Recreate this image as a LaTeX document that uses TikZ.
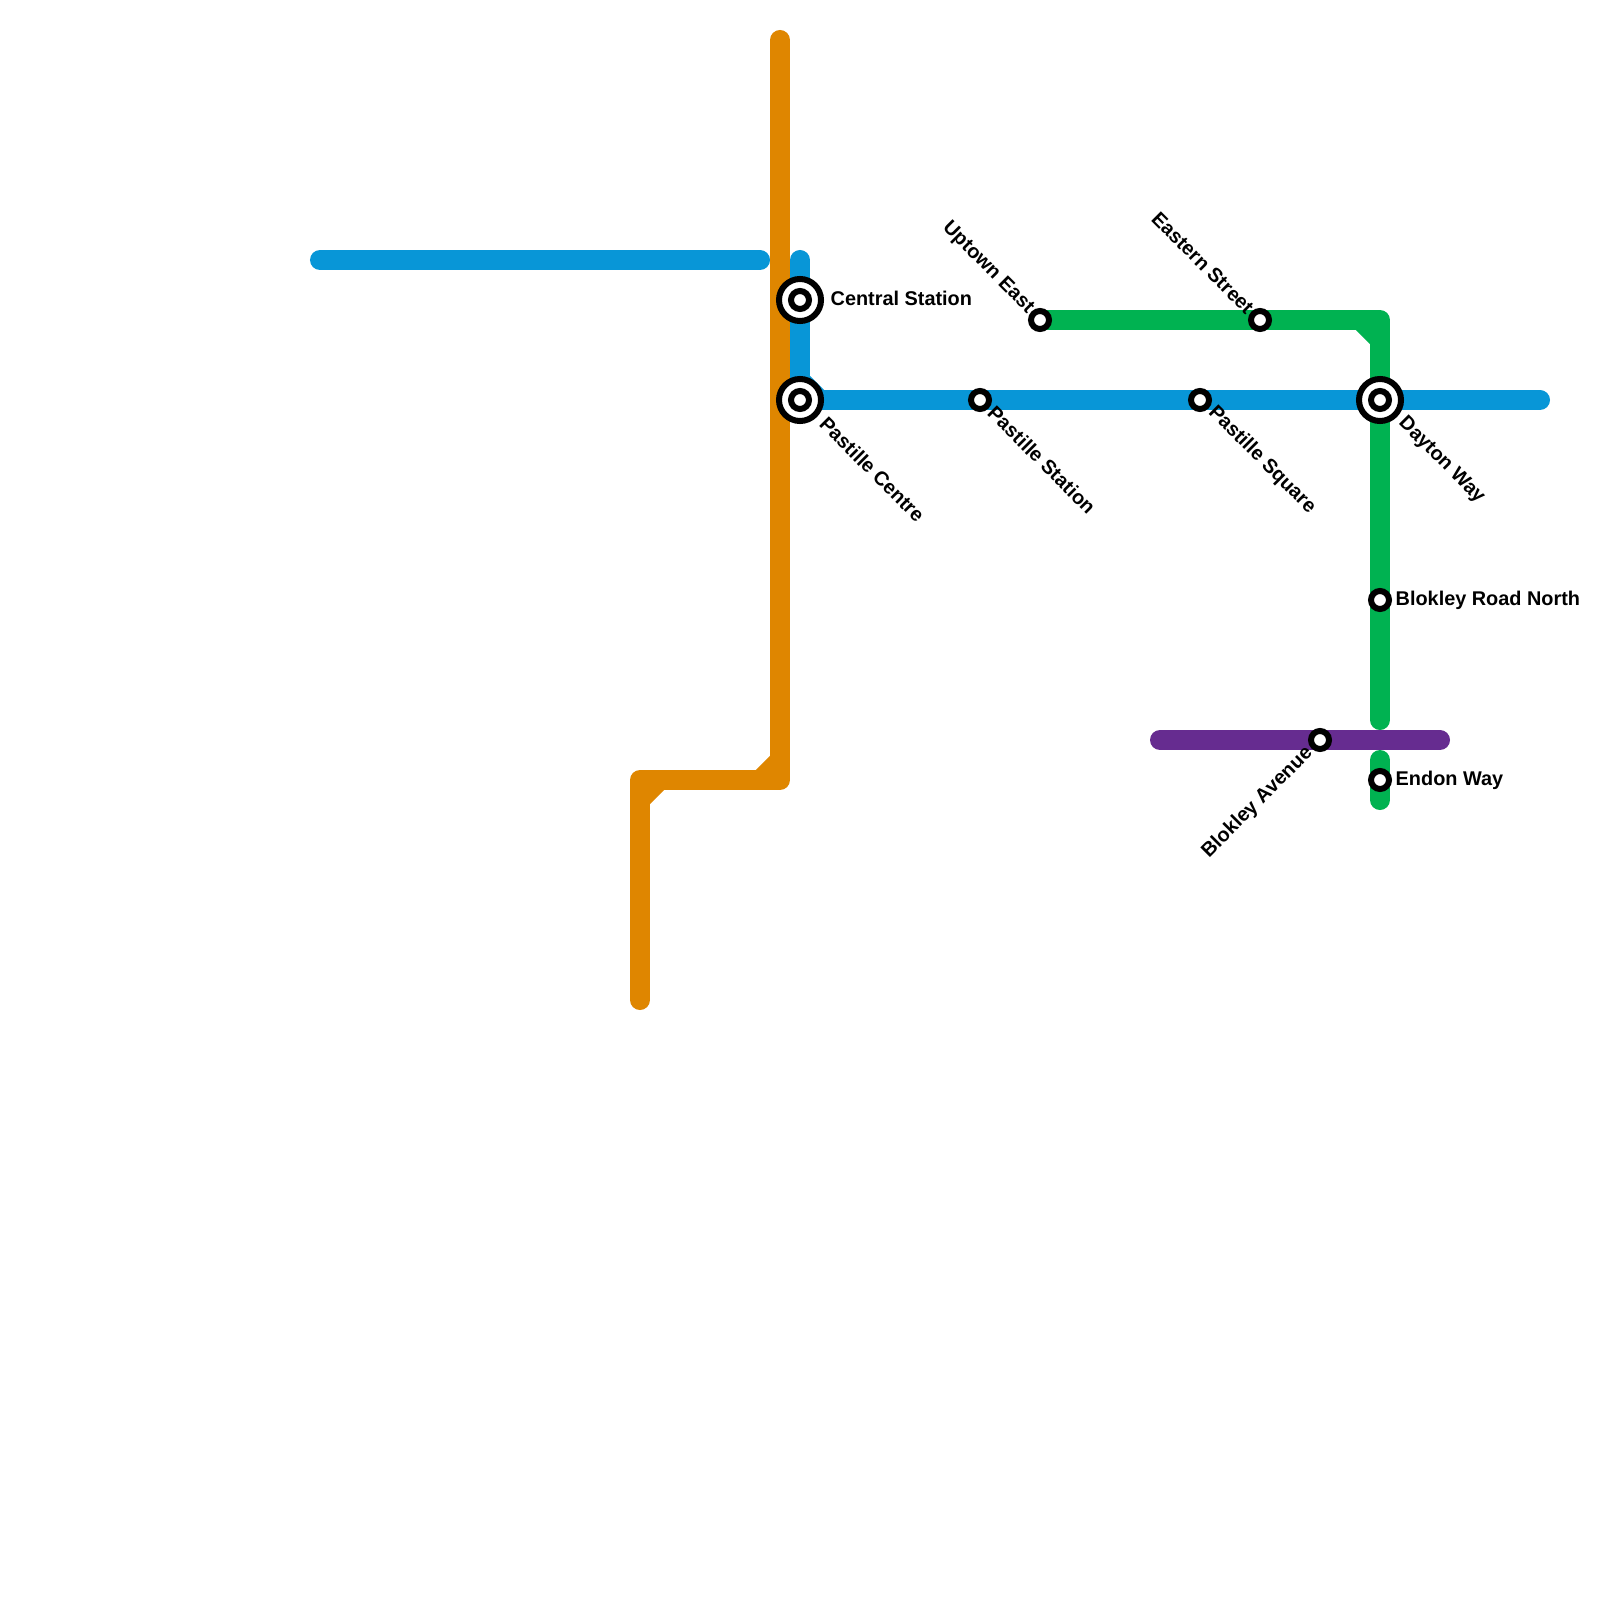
\documentclass[tikz,border=0pt]{standalone}
\usepackage{fontspec}
\setmainfont{Liberation Sans}
\usetikzlibrary{backgrounds}
\definecolor{lineblue}{HTML}{0896D7}
\definecolor{lineorange}{HTML}{DF8600}
\definecolor{linegreen}{HTML}{00B251}
\definecolor{linepurple}{HTML}{662C90}
\tikzset{
    route/.style={line width=0.2cm, line cap=round, line join=round},
    chamfer/.style={line width=0.2cm, line cap=butt},
    station/.style={circle, draw=black, fill=white, line width=0.06cm, minimum size=0.18cm, inner sep=0pt},
    hub/.style={circle, draw=black, fill=white, line width=0.06cm, minimum size=0.42cm, inner sep=0pt},
    stname/.style={inner sep=0pt, font=\fontsize{5.65pt}{6.8pt}\selectfont\bfseries},
    nameright/.style={stname, anchor=west},
    namedown/.style={stname, anchor=west, rotate=-45},
    nameup/.style={stname, anchor=east, rotate=-45},
    namedownleft/.style={stname, anchor=east, rotate=45}
}
\begin{document}
\begin{tikzpicture}[x=0.01cm, y=-0.01cm]
\useasboundingbox (0,0) rectangle (1600,1600);
\node[hub] (central) at (800,300) {};
\node[station] (centraldot) at (central) {};
\node[hub] (centre) at (800,400) {};
\node[station] (centredot) at (centre) {};
\node[hub] (dayton) at (1380,400) {};
\node[station] (daytondot) at (dayton) {};
\node[station] (pstation) at (980,400) {};
\node[station] (psquare) at (1200,400) {};
\node[station] (uptown) at (1040,320) {};
\node[station] (eastern) at (1260,320) {};
\node[station] (roadnorth) at (1380,600) {};
\node[station] (endon) at (1380,780) {};
\node[station] (avenue) at (1320,740) {};
\node[nameright] (centrallabel) at (830,298) {Central Station};
\node[namedown] (centrelabel) at (823,420) {Pastille Centre};
\node[namedown] (pstationlabel) at (991,409) {Pastille Station};
\node[namedown] (psquarelabel) at (1211,409) {Pastille Square};
\node[namedown] (daytonlabel) at (1401,420) {Dayton Way};
\node[nameup] (uptownlabel) at (1031,311) {Uptown East};
\node[nameup] (easternlabel) at (1251,311) {Eastern Street};
\node[nameright] (roadnorthlabel) at (1395,600) {Blokley Road North};
\node[nameright] (endonlabel) at (1395,780) {Endon Way};
\node[namedownleft] (avenuelabel) at (1310,750) {Blokley Avenue};
\coordinate (orangetop) at (780,40);
\coordinate (orangeright) at (780,780);
\coordinate (orangeleft) at (640,780);
\coordinate (orangeend) at (640,1000);
\coordinate (bluewest) at (320,260);
\coordinate (bluewestend) at (760,260);
\coordinate (bluenorth) at (800,260);
\coordinate (blueeast) at (1540,400);
\coordinate (greencorner) at (1380,320);
\coordinate (greengap) at (1380,720);
\coordinate (greenstub) at (1380,760);
\coordinate (greenend) at (1380,800);
\coordinate (purplewest) at (1160,740);
\coordinate (purpleeast) at (1440,740);
\begin{scope}[on background layer]
\draw[route, lineblue] (bluewest) -- (bluewestend);
\draw[route, lineblue] (bluenorth) -- (central.center) -- (centre.center) -- (pstation.center) -- (psquare.center) -- (dayton.center) -- (blueeast);
\draw[chamfer, lineblue] (800,380) -- (820,400);
\draw[route, lineorange] (orangetop) -- (orangeright) -- (orangeleft) -- (orangeend);
\draw[chamfer, lineorange] (760,780) -- (780,760);
\draw[chamfer, lineorange] (660,780) -- (640,800);
\draw[route, linegreen] (uptown.center) -- (eastern.center) -- (greencorner) -- (dayton.center) -- (roadnorth.center) -- (greengap);
\draw[chamfer, linegreen] (1360,320) -- (1380,340);
\draw[route, linegreen] (greenstub) -- (endon.center) -- (greenend);
\draw[route, linepurple] (purplewest) -- (avenue.center) -- (purpleeast);
\end{scope}
\end{tikzpicture}
\end{document}
